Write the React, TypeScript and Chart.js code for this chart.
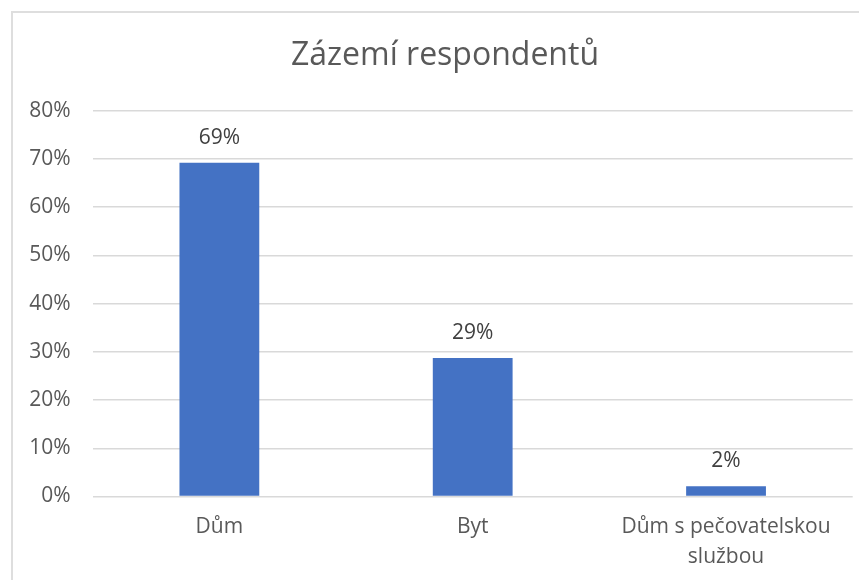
import React, { useEffect, useRef } from "react";
import { Chart, registerables } from "chart.js";

Chart.register(...registerables);

const title = "Zázemí respondentů";
const categories: (string | string[])[] = ["Dům", "Byt", ["Dům s pečovatelskou", "službou"]];
const values = [0.692, 0.287, 0.021];
const yMax = 0.8;
const yStep = 0.1;

const FONT = "'Open Sans', sans-serif";
const TEXT = "#595959";

const dataLabelPlugin = {
  id: "dataLabels",
  afterDatasetsDraw(chart: any) {
    const ctx = chart.ctx;
    const meta = chart.getDatasetMeta(0);
    ctx.save();
    ctx.font = `21px ${FONT}`;
    ctx.fillStyle = "#404040";
    ctx.textAlign = "center";
    ctx.textBaseline = "middle";
    meta.data.forEach((bar: any, i: number) => {
      const v = chart.data.datasets[0].data[i] as number;
      ctx.fillText(Math.round(v * 100) + "%", bar.x, bar.y - 25);
    });
    ctx.restore();
  },
};

const titlePlugin = {
  id: "offsetTitle",
  afterDraw(chart: any) {
    const ctx = chart.ctx;
    ctx.save();
    ctx.font = `32px ${FONT}`;
    ctx.fillStyle = TEXT;
    ctx.textAlign = "center";
    ctx.textBaseline = "middle";
    ctx.fillText(title, 432, 43);
    ctx.restore();
  },
};

export default function App() {
  const ref = useRef<HTMLCanvasElement>(null);
  useEffect(() => {
    if (!ref.current) return;
    const chart = new Chart(ref.current, {
      type: "bar",
      data: {
        labels: categories,
        datasets: [
          {
            data: values,
            backgroundColor: "#4472C4",
            barPercentage: 0.315,
            categoryPercentage: 1,
          },
        ],
      },
      options: {
        animation: false,
        responsive: false,
        layout: { padding: { left: 0, right: 16.3, top: 97.7, bottom: 0 } },
        plugins: {
          legend: { display: false },
          tooltip: { enabled: false },
          title: { display: false },
        },
        scales: {
          x: {
            grid: { display: false, drawTicks: false },
            border: { display: false },
            ticks: {
              color: TEXT,
              font: { family: FONT, size: 21, lineHeight: 1.43 },
              padding: 15.5,
              maxRotation: 0,
              autoSkip: false,
            },
            afterFit: (s: any) => {
              s.height = 84.5;
            },
          },
          y: {
            min: 0,
            max: yMax,
            grid: { color: "#D9D9D9", lineWidth: 1.5, drawTicks: false },
            border: { display: false },
            ticks: {
              stepSize: yStep,
              color: TEXT,
              font: { family: FONT, size: 21 },
              padding: 22,
              callback: (v: any) => Math.round(Number(v) * 100) + "%",
            },
            afterFit: (s: any) => {
              s.width = 79.7;
            },
          },
        },
      },
      plugins: [dataLabelPlugin, titlePlugin],
    });
    return () => chart.destroy();
  }, []);
  return (
    <div
      style={{
        position: "relative",
        left: 3,
        top: 3,
        width: 860,
        height: 572,
        border: "2px solid #DEDEDE",
        boxSizing: "border-box",
        background: "#fff",
      }}
    >
      <canvas ref={ref} width={856} height={568} style={{ display: "block" }} />
    </div>
  );
}
